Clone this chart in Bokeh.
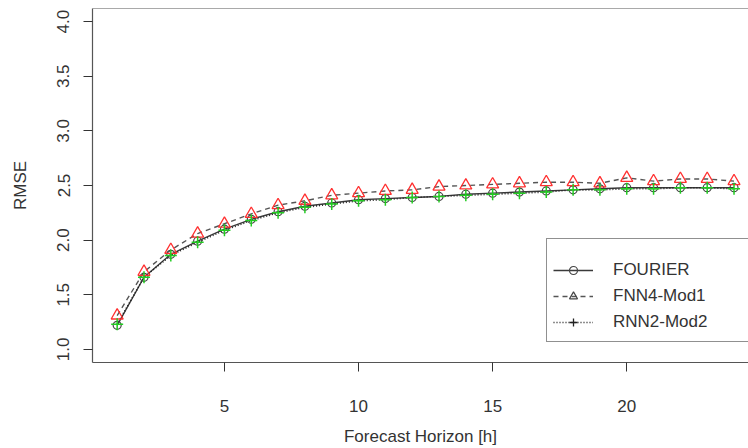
from bokeh.plotting import figure
from bokeh.models import (Range1d, FixedTicker, NumeralTickFormatter, Span,
                          Legend, LegendItem, ColumnDataSource)
from bokeh.embed import file_html
from bokeh.resources import INLINE

# Forecast horizon (hours) and RMSE per model
horizon = list(range(1, 25))
fourier = [1.22, 1.66, 1.87, 1.99, 2.10, 2.19, 2.26, 2.31, 2.34, 2.37, 2.38, 2.39,
           2.40, 2.42, 2.43, 2.44, 2.45, 2.46, 2.47, 2.48, 2.48, 2.48, 2.48, 2.48]
fnn4_mod1 = [1.31, 1.71, 1.91, 2.06, 2.15, 2.24, 2.32, 2.36, 2.41, 2.43, 2.45, 2.46,
             2.49, 2.50, 2.51, 2.52, 2.53, 2.53, 2.52, 2.57, 2.54, 2.56, 2.56, 2.54]
rnn2_mod2 = [1.23, 1.66, 1.86, 1.98, 2.09, 2.18, 2.25, 2.30, 2.33, 2.36, 2.37, 2.39,
             2.40, 2.41, 2.42, 2.43, 2.44, 2.46, 2.46, 2.47, 2.47, 2.48, 2.48, 2.47]

x_ticks = [5, 10, 15, 20]
y_ticks = [1.0, 1.5, 2.0, 2.5, 3.0, 3.5, 4.0]

FONT = "Liberation Sans"
TXT = "#333333"

p = figure(width=748, height=448, output_backend="svg", toolbar_location=None,
           x_range=Range1d(0.08, 24.54), y_range=Range1d(0.88, 4.12),
           min_border_left=92, min_border_right=0, min_border_top=8,
           min_border_bottom=85)
p.outline_line_color = None
p.xgrid.visible = False
p.ygrid.visible = False
p.background_fill_color = "white"
p.border_fill_color = "white"

for ax in (p.xaxis[0], p.yaxis[0]):
    ax.axis_line_color = "#555555"
    ax.axis_line_width = 1.2
    ax.major_tick_line_color = "#333333"
    ax.major_tick_in = 0
    ax.major_tick_out = 9
    ax.minor_tick_line_color = None
    ax.major_label_text_font = FONT
    ax.major_label_text_font_size = "17px"
    ax.major_label_text_color = TXT
    ax.axis_label_text_font = FONT
    ax.axis_label_text_font_size = "17px"
    ax.axis_label_text_font_style = "normal"
    ax.axis_label_text_color = TXT

p.xaxis.ticker = FixedTicker(ticks=x_ticks)
p.xaxis.axis_label = "Forecast Horizon [h]"
p.xaxis.major_label_standoff = 28
p.xaxis.axis_label_standoff = 12

p.yaxis.ticker = FixedTicker(ticks=y_ticks)
p.yaxis.formatter = NumeralTickFormatter(format="0.0")
p.yaxis.major_label_orientation = "vertical"
p.yaxis.axis_label = "RMSE"
p.yaxis.major_label_standoff = 14
p.yaxis.axis_label_standoff = 25

# top border of the plotting box
p.add_layout(Span(location=4.12, dimension="width", line_color="#555555",
                  line_width=1.2))

src = ColumnDataSource(dict(h=horizon, fourier=fourier, fnn=fnn4_mod1, rnn=rnn2_mod2))

l_four = p.line("h", "fourier", source=src, line_color="#3a3a3a", line_width=1.4)
l_fnn = p.line("h", "fnn", source=src, line_color="#555555", line_width=1.4,
               line_dash="5 4")
l_rnn = p.line("h", "rnn", source=src, line_color="#222222", line_width=1.6,
               line_dash="1 2")

p.scatter("h", "fourier", source=src, marker="circle", size=8,
          line_color="#444444", fill_color=None, line_width=1.2)
p.scatter("h", "fnn", source=src, marker="triangle", size=12,
          line_color="#ff3030", fill_color=None, line_width=1.3)
p.scatter("h", "rnn", source=src, marker="cross", size=12,
          line_color="#22cc22", line_width=1.5)

# legend symbols are drawn in dark grey; these renderers only feed the legend
g_four = p.scatter("h", "fourier", source=src, marker="circle", size=7,
                   line_color="#444444", fill_color=None, line_width=1.2,
                   visible=False)
g_fnn = p.scatter("h", "fnn", source=src, marker="triangle", size=11,
                  line_color="#444444", fill_color=None, line_width=1.2,
                  visible=False)
g_rnn = p.scatter("h", "rnn", source=src, marker="cross", size=12,
                  line_color="#222222", line_width=1.3, visible=False)

legend = Legend(items=[
    LegendItem(label="FOURIER", renderers=[l_four, g_four], index=0),
    LegendItem(label="FNN4-Mod1", renderers=[l_fnn, g_fnn], index=0),
    LegendItem(label="RNN2-Mod2", renderers=[l_rnn, g_rnn], index=0),
], location=(454, 20))
legend.border_line_color = "#222222"
legend.border_line_width = 1.2
legend.background_fill_color = "white"
legend.background_fill_alpha = 1.0
legend.inactive_fill_alpha = 0.0
legend.label_text_font = FONT
legend.label_text_font_size = "17px"
legend.label_text_color = TXT
legend.glyph_width = 40
legend.glyph_height = 20
legend.label_standoff = 20
legend.label_width = 200
legend.label_height = 26
legend.spacing = 0
legend.padding = 6
legend.margin = 0
legend.title = " "
legend.title_text_font_size = "11px"
legend.title_standoff = 0
p.add_layout(legend, "center")

open("out.html", "w").write(file_html(p, INLINE))
